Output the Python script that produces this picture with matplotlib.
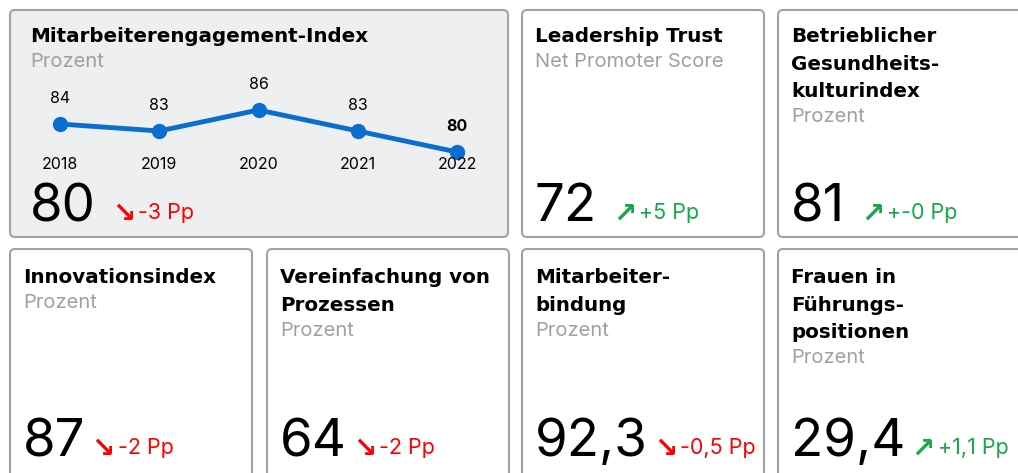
import matplotlib
matplotlib.use('Agg')
import matplotlib.pyplot as plt
from matplotlib.patches import FancyBboxPatch
from matplotlib.transforms import blended_transform_factory

plt.rcParams['font.family'] = ['Inter', 'DejaVu Sans']

# Zeitreihe Mitarbeiterengagement-Index
years = ['2018', '2019', '2020', '2021', '2022']
engagement = [84, 83, 86, 83, 80]

# KPI-Karten
titles = ['Mitarbeiterengagement-Index', 'Leadership Trust',
          'Betrieblicher\nGesundheits-\nkulturindex', 'Innovationsindex',
          'Vereinfachung von\nProzessen', 'Mitarbeiter-\nbindung',
          'Frauen in\nFührungs-\npositionen']
units = ['Prozent', 'Net Promoter Score', 'Prozent', 'Prozent', 'Prozent',
         'Prozent', 'Prozent']
values = ['80', '72', '81', '87', '64', '92,3', '29,4']
deltas = ['-3 Pp', '+5 Pp', '+-0 Pp', '-2 Pp', '-2 Pp', '-0,5 Pp', '+1,1 Pp']
trend_up = [False, True, True, False, False, False, True]

# Kartenrahmen in Pixeln: links, oben, rechts, unten
boxes = [(10, 10, 508, 237), (522, 10, 764, 237), (778, 10, 1030, 237),
         (10, 249, 252, 490), (267, 249, 509, 490), (522, 249, 764, 490),
         (778, 249, 1030, 490)]

RED = '#ff0000'
GREEN = '#14a94a'
BLUE = '#0a6ed1'
GREY = '#a0a0a0'

fig = plt.figure(figsize=(10.18, 4.73), dpi=100)
ax = fig.add_axes([0, 0, 1, 1])
ax.set_xlim(0, 1018)
ax.set_ylim(473, 0)
ax.axis('off')

renderer = fig.canvas.get_renderer()

for i, (l, t, r, b) in enumerate(boxes):
    face = '#eeeff1' if i == 0 else 'white'
    ax.add_patch(FancyBboxPatch((l, t), r - l, b - t,
                                boxstyle='round,pad=0,rounding_size=5',
                                facecolor=face, edgecolor='#a2a2a2', linewidth=1.5))
    pad = 20 if i == 0 else 13
    x0 = l + pad
    base = 42 if t < 100 else 283
    lines = titles[i].split('\n')
    for k, line in enumerate(lines):
        ax.text(x0, base + k * 27.5, line, fontsize=14.3, fontweight='bold',
                family='DejaVu Sans', color='black', va='baseline', ha='left')
    ax.text(x0, base + (len(lines) - 1) * 27.5 + 25, units[i], fontsize=14.5,
            color=GREY, va='baseline', ha='left')

    nbase = 221 if t < 100 else 456
    num = ax.text(x0, nbase, values[i], fontsize=38, color='black',
                  va='baseline', ha='left')
    ext = num.get_window_extent(renderer)
    gap = 16 if t < 100 else 6
    col = GREEN if trend_up[i] else RED
    arr = ax.text(ext.x1 + gap, nbase + 1, '\u2197' if trend_up[i] else '\u2198',
                  fontsize=20, fontweight='bold', color=col, family='DejaVu Sans',
                  va='baseline', ha='left')
    aext = arr.get_window_extent(renderer)
    ax.text(aext.x1 + 3, nbase - 2, deltas[i], fontsize=15.5, color=col,
            va='baseline', ha='left')

# Liniendiagramm in der ersten Karte
lx = fig.add_axes([60 / 1018, (473 - 152) / 473, 397 / 1018, 42 / 473])
lx.set_xlim(0, len(years) - 1)
lx.set_ylim(min(engagement), max(engagement))
lx.axis('off')
xs = list(range(len(years)))
lx.plot(xs, engagement, color=BLUE, linewidth=3.5, marker='o', markersize=10,
        clip_on=False)
trans = blended_transform_factory(lx.transData, lx.transAxes)
for i, (yr, v) in enumerate(zip(years, engagement)):
    last = i == len(years) - 1
    lx.annotate(str(v), (i, v), xytext=(0, 18.5), textcoords='offset points',
                ha='center', va='center', fontsize=11.5,
                fontweight='bold' if last else 'normal')
    lx.text(i, -0.29, yr, transform=trans, ha='center', va='center', fontsize=11.5)

fig.savefig('out.png', dpi=100)
